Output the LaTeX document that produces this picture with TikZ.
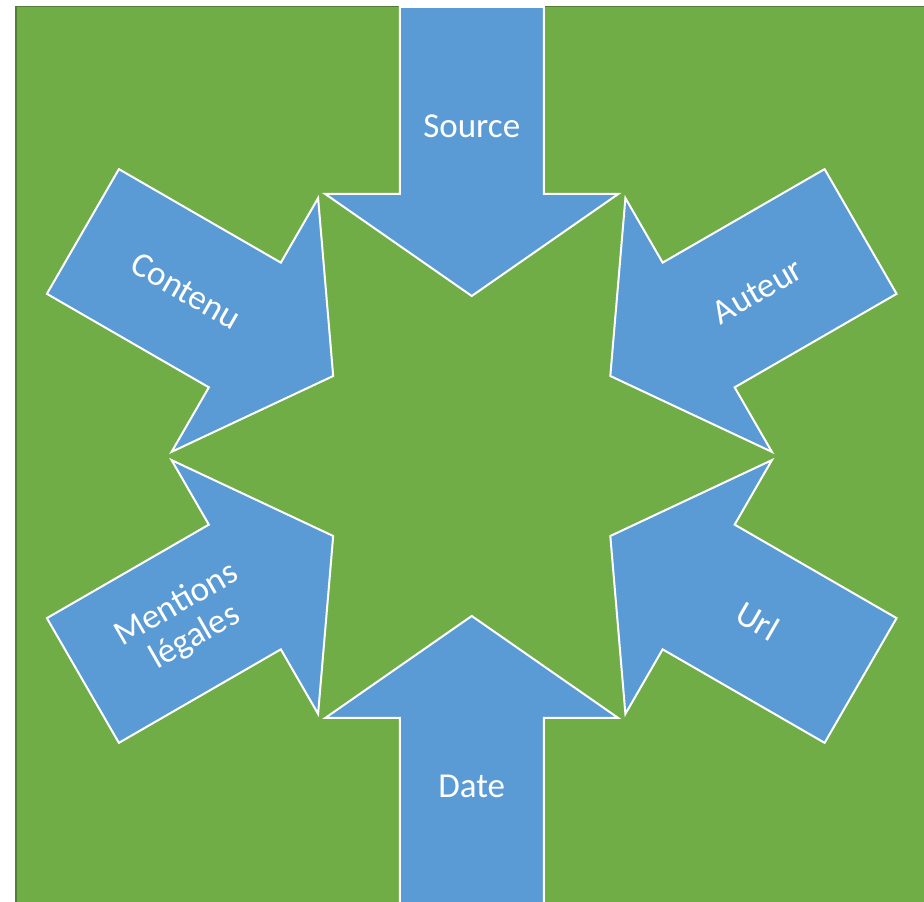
\documentclass[tikz,border=0pt]{standalone}
\usepackage{fontspec}
\setmainfont{Carlito}
\definecolor{bggreen}{HTML}{70AD47}
\definecolor{edgegreen}{HTML}{507E32}
\definecolor{arrowblue}{HTML}{5B9BD5}
\begin{document}
\begin{tikzpicture}[x=1pt,y=1pt,
  blockarrow/.style={fill=arrowblue, draw=white, line width=2pt, line join=miter},
  lbl/.style={text=white, font=\fontsize{35}{37}\selectfont, align=center, inner sep=0pt}]
\useasboundingbox (0,0) rectangle (924,902);
\coordinate (C) at (471.75,446);
\begin{scope}
  \clip (0,0) rectangle (924,902);
  \fill[bggreen] (15,-10) rectangle (940,896);
  \draw[edgegreen, line width=1.5pt] (15.75,-10) -- (15.75,895.25) -- (940,895.25);
  \foreach \a in {90,150,210,270,330,30}{
    \draw[blockarrow, shift={(C)}, rotate=\a]
      (160,0) -- (262,146.5) -- (262,72) -- (449,72) -- (449,-72)
      -- (262,-72) -- (262,-146.5) -- cycle;
  }
\end{scope}
\node[lbl] (source) at ([shift={(90:330)}]C) {Source};
\node[lbl] (date) at ([shift={(270:330)}]C) {Date};
\node[lbl, rotate=-30] (contenu) at ([shift={(150:330)}]C) {Contenu};
\node[lbl, rotate=30] (auteur) at ([shift={(30:330)}]C) {Auteur};
\node[lbl, rotate=-30] (url) at ([shift={(330:330)}]C) {Url};
\node[lbl, rotate=30] (mentions) at ([shift={(210:330)}]C) {Mentions\\légales};
\end{tikzpicture}
\end{document}
